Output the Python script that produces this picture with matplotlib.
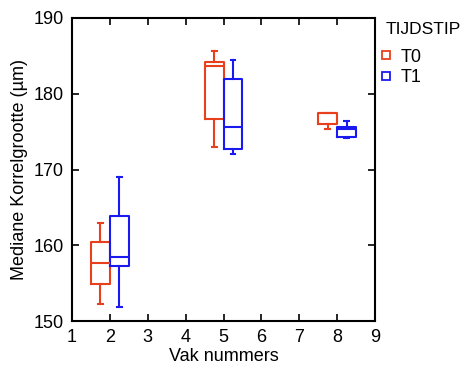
import matplotlib
import matplotlib.pyplot as plt
from matplotlib.lines import Line2D

matplotlib.use('agg')
plt.rcParams['font.family'] = ['Liberation Sans', 'DejaVu Sans']
plt.rcParams['font.size'] = 13

groups = [2, 5, 8]
series = ['T0', 'T1']
colors = {'T0': '#E8401C', 'T1': '#1A1AF0'}
offsets = {'T0': -0.25, 'T1': 0.25}

# whislo, q1, med, q3, whishi per group
stats_t0 = [
    (152.2, 154.9, 157.6, 160.4, 163.0),
    (173.0, 176.7, 183.6, 184.2, 185.7),
    (175.3, 176.0, 177.4, 177.4, 177.5),
]
stats_t1 = [
    (151.8, 157.3, 158.4, 163.9, 169.0),
    (172.0, 172.7, 175.6, 182.0, 184.5),
    (174.2, 174.3, 175.4, 175.6, 176.4),
]
data = {'T0': stats_t0, 'T1': stats_t1}

fig = plt.figure(figsize=(4.63, 3.65), dpi=100)
ax = fig.add_axes([0.1555, 0.1205, 0.6545, 0.8302])

for s in series:
    c = colors[s]
    bstats = [dict(whislo=a, q1=b, med=m, q3=d, whishi=e, fliers=[])
              for a, b, m, d, e in data[s]]
    pos = [g + offsets[s] for g in groups]
    ax.bxp(bstats, positions=pos, widths=0.5, showfliers=False,
           manage_ticks=False,
           boxprops=dict(color=c, lw=1.5),
           medianprops=dict(color=c, lw=1.5),
           whiskerprops=dict(color=c, lw=1.5),
           capprops=dict(color=c, lw=1.5),
           capwidths=0.13)

ax.set_xlim(1, 9)
ax.set_ylim(150, 190)
ax.set_xticks(range(1, 10))
ax.set_yticks(range(150, 191, 10))
ax.tick_params(direction='in', top=True, right=True, length=5, width=1.2,
               pad=6)
for sp in ax.spines.values():
    sp.set_linewidth(1.5)
ax.set_xlabel('Vak nummers', labelpad=1)
ax.set_ylabel('Mediane Korrelgrootte (µm)', labelpad=4)

# legend: title as its own text, entries below
fig.text(386 / 463, 1 - 30 / 365, 'TIJDSTIP', fontsize=12.5, va='center')
handles = [Line2D([], [], ls='none', marker='s', markersize=6,
                  markerfacecolor='none', markeredgecolor=colors[s],
                  markeredgewidth=1.3, label=s) for s in series]
leg = fig.legend(handles=handles, loc='upper left',
                 bbox_to_anchor=(366 / 463, 1 - 36 / 365), frameon=False,
                 fontsize=13, handletextpad=0.4, labelspacing=0.2,
                 handlelength=0.8, borderpad=0.2)

fig.savefig('out.png', dpi=100)
